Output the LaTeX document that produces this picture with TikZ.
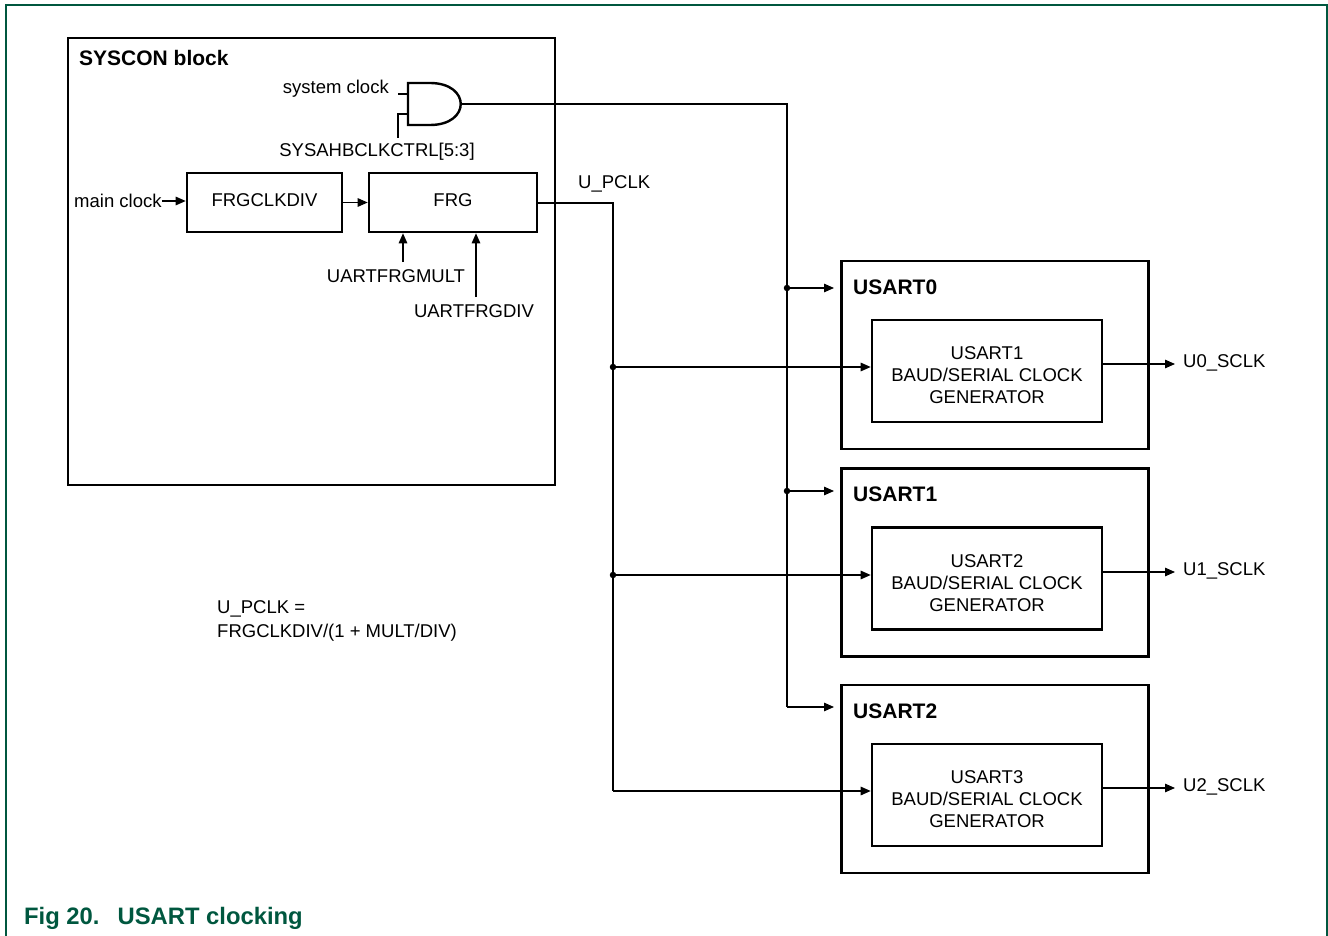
\documentclass[tikz,border=0pt]{standalone}
\usepackage{fontspec}
\setmainfont{Liberation Sans}
\usetikzlibrary{arrows.meta}
\definecolor{nxpgreen}{HTML}{00573F}
\begin{document}
\begin{tikzpicture}[x=1pt,y=-1pt,
  lbl/.style={font=\fontsize{18.5}{22}\selectfont, inner sep=0pt, align=center},
  ttl/.style={font=\fontsize{21}{24}\selectfont\bfseries, inner sep=0pt, anchor=west},
  box/.style={draw, line width=2.6pt, inner sep=0pt, font=\fontsize{18.5}{22}\selectfont, align=center},
  wire/.style={line width=1.3pt},
  arr/.style={wire, -{Triangle[length=10pt,width=8.5pt]}},
  dot/.style={circle, fill, inner sep=0pt, minimum size=6.5pt}]
\useasboundingbox (0,0) rectangle (1328,936);
% frame
\draw[nxpgreen, line width=1.6pt] (6,936) -- (6,5) -- (1327,5) -- (1327,936);
\node[font=\fontsize{23.8}{27}\selectfont\bfseries, text=nxpgreen, anchor=west, inner sep=0pt] (cap) at (24,918) {Fig 20.\hspace{18pt}USART clocking};

% SYSCON block
\node[box, minimum width=487pt, minimum height=447pt] (sys) at (311.5,261.5) {};
\node[ttl] (systl) at (79,58) {SYSCON block};

% AND gate
\coordinate (gin1) at (408,94);
\coordinate (gin2) at (408,114);
\coordinate (gout) at (461,104);
\draw[line width=2.4pt] (408,83) -- (430,83) .. controls (471,83) and (471,125) .. (430,125) -- (408,125) -- cycle;
\node[lbl, anchor=east] (sysclk) at (389,89) {system clock};
\node[lbl] (ahb) at (377,152) {SYSAHBCLKCTRL[5:3]};
\coordinate (s1) at (398,94);
\coordinate (s2) at (398,138);
\draw[wire] (s1) -- (gin1);
\draw[wire] (s2) |- (gin2);

% FRG chain
\node[box, minimum width=155pt, minimum height=59pt] (frgclkdiv) at (264.5,202.5) {FRGCLKDIV\rule[-4pt]{0pt}{0pt}};
\node[box, minimum width=168pt, minimum height=59pt] (frg) at (453,202.5) {FRG\rule[-4pt]{0pt}{0pt}};
\node[lbl, anchor=west] (main) at (74,201) {main clock};
\draw[arr] (main.east) -- (frgclkdiv.west |- main.east);
\draw[arr] (frgclkdiv.east) -- (frg.west);
\node[lbl] (mult) at (396,276) {UARTFRGMULT};
\node[lbl] (div) at (474,311) {UARTFRGDIV};
\draw[arr] (403,262) -- (403,0 |- frg.south);
\draw[arr] (476,297) -- (476,0 |- frg.south);

% USART blocks
\foreach \i/\y/\g in {0/355/1, 1/562.5/2, 2/779/3} {
  \node[box, minimum width=307pt, minimum height=188pt] (usart\i) at (995,\y) {};
  \node[ttl] (ut\i) at (853,\y-68) {USART\i};
  \node[box, minimum width=230pt, minimum height=102pt] (gen\i) at (987,\y+16) {\rule{0pt}{22pt}USART\g\\BAUD/SERIAL CLOCK\\GENERATOR};
}
\node[lbl, anchor=west] (o0) at (1183,363) {U0\_SCLK};
\node[lbl, anchor=west] (o1) at (1183,571) {U1\_SCLK};
\node[lbl, anchor=west] (o2) at (1183,787) {U2\_SCLK};
\draw[arr] (1102,364) -- (1175,364);
\draw[arr] (1102,572) -- (1175,572);
\draw[arr] (1102,788) -- (1175,788);

% system clock distribution
\coordinate (sa) at (787,288);
\coordinate (sb) at (787,491);
\coordinate (sc) at (787,707);
\draw[wire] (gout) -| (sa);
\draw[wire] (sa) -- (sc);
\draw[arr] (sa) -- (834,288);
\draw[arr] (sb) -- (834,491);
\draw[arr] (sc) -- (834,707);
\node[dot] (da) at (sa) {};
\node[dot] (db) at (sb) {};

% U_PCLK distribution
\node[lbl, anchor=west] (upclk) at (578,184) {U\_PCLK};
\coordinate (pa) at (613,367);
\coordinate (pb) at (613,575);
\coordinate (pc) at (613,791);
\draw[wire] (frg.east |- 0,203) -| (pa);
\draw[wire] (pa) -- (pc);
\draw[arr] (pa) -- (gen0.west |- pa);
\draw[arr] (pb) -- (gen1.west |- pb);
\draw[arr] (pc) -- (gen2.west |- pc);
\node[dot] (dpa) at (pa) {};
\node[dot] (dpb) at (pb) {};

% formula
\node[lbl, anchor=north west, align=left, font=\fontsize{18.5}{24}\selectfont] (formula) at (217,600) {U\_PCLK =\\FRGCLKDIV/(1 + MULT/DIV)};
\end{tikzpicture}
\end{document}
